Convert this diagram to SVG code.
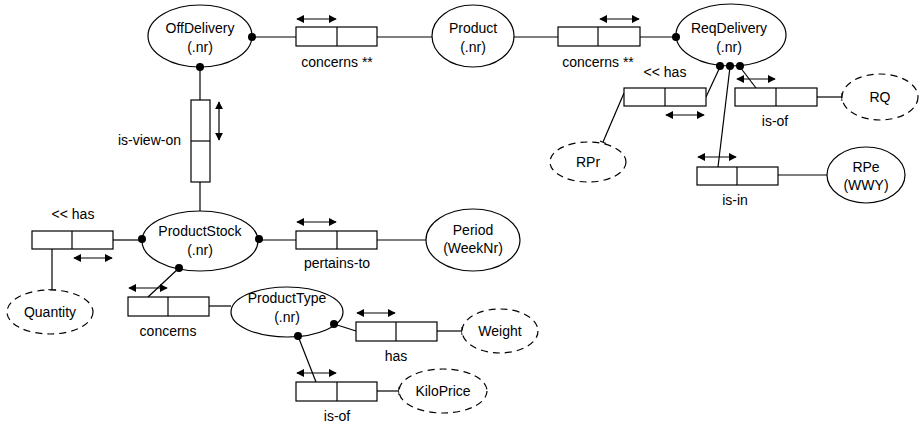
<svg xmlns="http://www.w3.org/2000/svg" width="922" height="427" viewBox="0 0 922 427">
<style>
.n{fill:#fff;stroke:#000;stroke-width:1.2}
.d{fill:#fff;stroke:#000;stroke-width:1.2;stroke-dasharray:7 5}
.b{fill:#fff;stroke:#000;stroke-width:1.2}
.l{fill:none;stroke:#000;stroke-width:1.2}
.a{fill:none;stroke:#000;stroke-width:1.2;marker-start:url(#ah);marker-end:url(#ah)}
.dot{fill:#000}
text{font-family:"Liberation Sans",Arial,sans-serif;font-size:14px;fill:#000;text-anchor:middle}
</style>
<defs>
<marker id="ah" viewBox="0 0 10 10" refX="9" refY="5" markerWidth="8" markerHeight="8" markerUnits="userSpaceOnUse" orient="auto-start-reverse">
<path d="M0,0 L10,5 L0,10 z" fill="#000"/>
</marker>
</defs>
<g id="connectors">
<line class="l" x1="252" y1="37" x2="296" y2="37"/>
<line class="l" x1="377" y1="37" x2="432" y2="37"/>
<line class="l" x1="514" y1="37" x2="558" y2="37"/>
<line class="l" x1="640" y1="37" x2="676" y2="37"/>
<line class="l" x1="200" y1="67" x2="200" y2="100"/>
<line class="l" x1="200" y1="182" x2="200" y2="211"/>
<line class="l" x1="720" y1="67" x2="706" y2="97"/>
<line class="l" x1="624" y1="93" x2="603" y2="142"/>
<line class="l" x1="600" y1="141" x2="606" y2="143.5"/>
<line class="l" x1="740" y1="67" x2="756" y2="88"/>
<line class="l" x1="817" y1="97" x2="842" y2="97"/>
<line class="l" x1="842" y1="93" x2="842" y2="101"/>
<line class="l" x1="730" y1="67" x2="718" y2="167"/>
<line class="l" x1="778" y1="175" x2="827" y2="175"/>
<line class="l" x1="113" y1="240" x2="142" y2="240"/>
<line class="l" x1="52" y1="249" x2="52" y2="290"/>
<line class="l" x1="48" y1="290" x2="56" y2="290"/>
<line class="l" x1="259" y1="240" x2="296" y2="240"/>
<line class="l" x1="377" y1="240" x2="427" y2="240"/>
<line class="l" x1="179" y1="268" x2="148" y2="297"/>
<line class="l" x1="209" y1="306" x2="231" y2="306"/>
<line class="l" x1="334" y1="324" x2="356" y2="331"/>
<line class="l" x1="437" y1="331" x2="462" y2="331"/>
<line class="l" x1="462" y1="327" x2="462" y2="335"/>
<line class="l" x1="298" y1="336" x2="316" y2="382"/>
<line class="l" x1="377" y1="391" x2="399" y2="391"/>
<line class="l" x1="399" y1="387" x2="399" y2="395"/>
</g>
<g id="OffDelivery">
<ellipse class="n" cx="200" cy="36" rx="52" ry="31"/>
<text x="200" y="33">OffDelivery</text>
<text x="200" y="52">(.nr)</text>
<circle class="dot" cx="252" cy="37" r="4"/>
<circle class="dot" cx="200" cy="67" r="4"/>
</g>
<g id="Product">
<ellipse class="n" cx="473" cy="36" rx="41" ry="31"/>
<text x="473" y="33">Product</text>
<text x="473" y="52">(.nr)</text>
</g>
<g id="ReqDelivery">
<ellipse class="n" cx="731" cy="35" rx="55" ry="31"/>
<text x="729" y="33">ReqDelivery</text>
<text x="729" y="52">(.nr)</text>
<circle class="dot" cx="676" cy="37" r="4"/>
<circle class="dot" cx="720" cy="66" r="4"/>
<circle class="dot" cx="730" cy="66" r="4"/>
<circle class="dot" cx="740" cy="66" r="4"/>
</g>
<g id="concerns1">
<rect class="b" x="296" y="27" width="81" height="19"/>
<line class="l" x1="337" y1="27" x2="337" y2="46"/>
<line class="a" x1="297" y1="19" x2="336" y2="19"/>
<text x="337" y="67">concerns **</text>
</g>
<g id="concerns2">
<rect class="b" x="558" y="27" width="82" height="19"/>
<line class="l" x1="598" y1="27" x2="598" y2="46"/>
<line class="a" x1="600" y1="19" x2="639" y2="19"/>
<text x="598" y="67">concerns **</text>
</g>
<g id="is-view-on">
<rect class="b" x="191" y="100" width="19" height="82"/>
<line class="l" x1="191" y1="141" x2="210" y2="141"/>
<line class="a" x1="219" y1="102" x2="219" y2="140"/>
<text x="181" y="145" style="text-anchor:end">is-view-on</text>
</g>
<g id="hasRPr">
<rect class="b" x="624" y="88" width="82" height="18"/>
<line class="l" x1="665" y1="88" x2="665" y2="106"/>
<line class="a" x1="666" y1="115" x2="704" y2="115"/>
<text x="665" y="77">&lt;&lt; has</text>
</g>
<g id="RPr">
<ellipse class="d" cx="588" cy="162" rx="38" ry="20"/>
<text x="588" y="167">RPr</text>
</g>
<g id="is-of-RQ">
<rect class="b" x="735" y="88" width="82" height="18"/>
<line class="l" x1="776" y1="88" x2="776" y2="106"/>
<line class="a" x1="737" y1="79" x2="775" y2="79"/>
<text x="775" y="126">is-of</text>
</g>
<g id="RQ">
<ellipse class="d" cx="880" cy="97" rx="38" ry="23"/>
<text x="880" y="102">RQ</text>
</g>
<g id="is-in">
<rect class="b" x="697" y="167" width="81" height="18"/>
<line class="l" x1="737" y1="167" x2="737" y2="185"/>
<line class="a" x1="698" y1="157" x2="736" y2="157"/>
<text x="735" y="205">is-in</text>
</g>
<g id="RPe">
<ellipse class="n" cx="866" cy="175" rx="39" ry="28"/>
<text x="866" y="172">RPe</text>
<text x="866" y="190">(WWY)</text>
</g>
<g id="ProductStock">
<ellipse class="n" cx="200" cy="241" rx="58" ry="30"/>
<text x="200" y="236">ProductStock</text>
<text x="200" y="255">(.nr)</text>
<circle class="dot" cx="142" cy="239" r="4"/>
<circle class="dot" cx="259" cy="239" r="4"/>
<circle class="dot" cx="179" cy="268" r="4"/>
</g>
<g id="hasQuantity">
<rect class="b" x="32" y="231" width="81" height="18"/>
<line class="l" x1="72" y1="231" x2="72" y2="249"/>
<line class="a" x1="74" y1="258" x2="112" y2="258"/>
<text x="73" y="219">&lt;&lt; has</text>
</g>
<g id="Quantity">
<ellipse class="d" cx="50" cy="312" rx="43" ry="22"/>
<text x="50" y="317">Quantity</text>
</g>
<g id="pertains-to">
<rect class="b" x="296" y="231" width="81" height="18"/>
<line class="l" x1="337" y1="231" x2="337" y2="249"/>
<line class="a" x1="297" y1="222" x2="336" y2="222"/>
<text x="337" y="268">pertains-to</text>
</g>
<g id="Period">
<ellipse class="n" cx="473" cy="240" rx="47" ry="31"/>
<text x="473" y="235">Period</text>
<text x="473" y="253">(WeekNr)</text>
</g>
<g id="concerns3">
<rect class="b" x="128" y="297" width="81" height="19"/>
<line class="l" x1="168" y1="297" x2="168" y2="316"/>
<line class="a" x1="129" y1="288" x2="167" y2="288"/>
<text x="168" y="336">concerns</text>
</g>
<g id="ProductType">
<ellipse class="n" cx="287" cy="312" rx="56" ry="25"/>
<text x="287" y="303">ProductType</text>
<text x="287" y="322">(.nr)</text>
<circle class="dot" cx="334" cy="324" r="4"/>
<circle class="dot" cx="298" cy="336" r="4"/>
</g>
<g id="hasWeight">
<rect class="b" x="356" y="322" width="81" height="19"/>
<line class="l" x1="396" y1="322" x2="396" y2="341"/>
<line class="a" x1="357" y1="313" x2="395" y2="313"/>
<text x="396" y="361">has</text>
</g>
<g id="Weight">
<ellipse class="d" cx="500" cy="331" rx="38" ry="22"/>
<text x="500" y="336">Weight</text>
</g>
<g id="is-of-KiloPrice">
<rect class="b" x="296" y="382" width="81" height="19"/>
<line class="l" x1="337" y1="382" x2="337" y2="401"/>
<line class="a" x1="297" y1="373" x2="336" y2="373"/>
<text x="337" y="421">is-of</text>
</g>
<g id="KiloPrice">
<ellipse class="d" cx="443" cy="391" rx="44" ry="22"/>
<text x="443" y="396">KiloPrice</text>
</g>
</svg>
